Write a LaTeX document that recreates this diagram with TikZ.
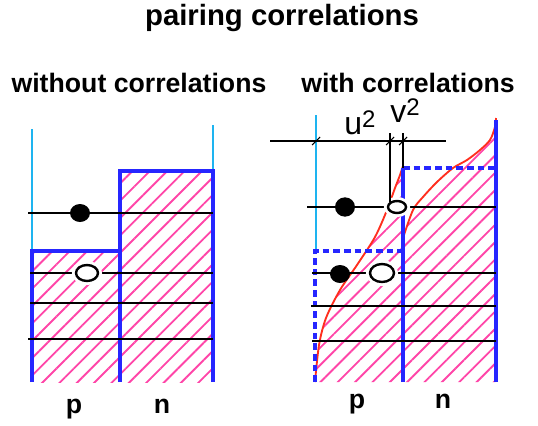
\documentclass[tikz,border=0pt]{standalone}
\usepackage{fontspec}
\setmainfont{Liberation Sans}
\setsansfont{Liberation Sans}
\usepackage{tikz}
\usetikzlibrary{patterns.meta, shapes.geometric}
\definecolor{wblue}{HTML}{2626FF}
\definecolor{gcyan}{HTML}{1EB4F0}
\definecolor{hpink}{HTML}{FF45A8}
\definecolor{fred}{HTML}{FF2E1E}
\tikzset{
  font=\sffamily,
  wall/.style={draw=wblue, line width=2.3pt},
  dwall/.style={wall, dash pattern=on 5pt off 3pt},
  guide/.style={draw=gcyan, line width=1.1pt},
  level/.style={draw=black, line width=2pt},
  measure/.style={draw=black, line width=0.8pt},
  hatch/.style={pattern={Lines[angle=45, distance=9.2pt, line width=1.4pt]}, pattern color=hpink},
  fermi/.style={draw=fred, line width=1.4pt},
  occ/.style={ellipse, fill=black, inner sep=0pt, minimum width=#1},
  occ/.default=15pt,
  hole/.style={ellipse, draw=black, fill=white, line width=1.8pt, inner sep=0pt,
    preaction={draw=white, line width=6pt}},
  head/.style={font=\sffamily\bfseries\fontsize{20}{24}\selectfont, inner sep=0pt, anchor=base},
  nuc/.style={font=\sffamily\bfseries\fontsize{20}{24}\selectfont, inner sep=0pt, anchor=base},
  amp/.style={font=\sffamily\fontsize{24}{28}\selectfont, inner sep=0pt, anchor=base west}
}
\newcommand{\sqamp}[1]{#1\raisebox{5pt}{\fontsize{18}{20}\selectfont 2}}

\begin{document}
\begin{tikzpicture}[x=0.75pt, y=-0.75pt]
  \useasboundingbox (0,0) rectangle (538,425);

  \node[head, font=\sffamily\bfseries\fontsize{22}{26}\selectfont] (title) at (282,25) {pairing correlations};
  \node[head] (without) at (139,92) {without correlations};
  \node[head] (with) at (408,92) {with correlations};

  % without correlations
  \fill[hatch] (32,251) rectangle (120,382);
  \fill[hatch] (120,171) rectangle (213,382);
  \draw[guide] (32,129) -- (32,251);
  \draw[guide] (213,125) -- (213,171);
  \draw[wall] (32,382) -- (32,251) -- (120,251);
  \draw[wall] (120,382) -- (120,171) -- (213,171) -- (213,382);
  \foreach \y/\xa in {213/28, 273/30, 303/30, 339/28}
    \draw[level] (\xa,\y) -- (213,\y);
  \node[occ, minimum height=13.5pt] (pA) at (80,213) {};
  \node[hole, minimum width=16.5pt, minimum height=12pt] (hA) at (87,273) {};
  \node[nuc] (pL) at (74,413) {p};
  \node[nuc] (nL) at (162,413) {n};

  % with correlations
  \fill[hatch] plot[smooth] coordinates {(315,382) (319,345) (326,318) (340,290) (357,265)
      (375,237) (387,210) (395,188) (400,175) (403,166)}
    -- (403,238)
    -- plot[smooth] coordinates {(403,238) (413,210) (423,197) (437,182) (453,168)
      (467,160) (480,150) (490,140) (495,127) (496,118)}
    -- (496,382) -- cycle;
  \draw[fermi] plot[smooth] coordinates {(315,382) (319,345) (326,318) (340,290) (357,265)
      (375,237) (387,210) (395,188) (400,175) (403,166)}
    -- (403,238)
    -- plot[smooth] coordinates {(403,238) (413,210) (423,197) (437,182) (453,168)
      (467,160) (480,150) (490,140) (495,127) (496,118)};
  \draw[guide] (316,115) -- (316,251);
  \draw[dwall] (315,382) -- (315,251) -- (403,251);
  \draw[dwall] (403,168) -- (496,168);
  \draw[wall] (403,168) -- (403,382);
  \draw[wall] (496,120) -- (496,382);
  \foreach \y/\xa in {207/307, 273/312, 306/311, 341/312}
    \draw[level] (\xa,\y) -- (496,\y);
  \node[occ, minimum height=14.5pt] (pB) at (345,207) {};
  \node[occ, minimum height=13.5pt] (pC) at (340,274) {};
  \node[hole, minimum width=13.5pt, minimum height=9pt] (hB) at (397,207) {};
  \node[hole, minimum width=18pt, minimum height=13.5pt] (hC) at (382,273) {};

  \coordinate (u0) at (316,141);
  \coordinate (u1) at (390,141);
  \coordinate (v1) at (403,141);
  \coordinate (ub) at (390,133);
  \coordinate (vb) at (403,133);
  \draw[measure] (270,141) -- (446,141);
  \foreach \c in {u0,u1,v1}
    \draw[measure] ([shift={(-4,4)}]\c) -- ([shift={(4,-4)}]\c);
  \draw[measure] (ub) -- (ub |- hB.north west);
  \draw[measure] (vb) -- (403,168);
  \node[amp] (uu) at (344,134) {\sqamp{u}};
  \node[amp] (vv) at (390,122) {\sqamp{v}};

  \node[nuc] (pR) at (357,408) {p};
  \node[nuc] (nR) at (443,408) {n};
\end{tikzpicture}
\end{document}
